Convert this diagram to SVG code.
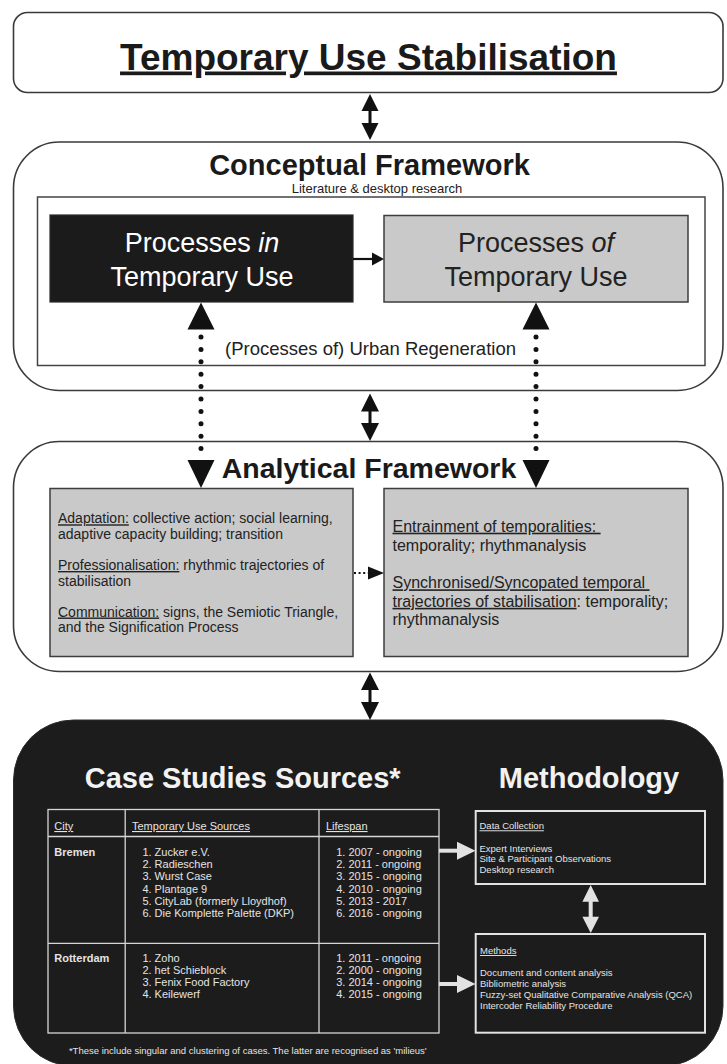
<svg xmlns="http://www.w3.org/2000/svg" width="727" height="1064" viewBox="0 0 727 1064">
  <style>
    text { font-family: "Liberation Sans", Arial, Helvetica, sans-serif; }
    .frame { fill: #ffffff; stroke: #3a3a3a; stroke-width: 1.6; }
    .inner { fill: #ffffff; stroke: #444444; stroke-width: 1.5; }
    .dark { fill: #1b1b1b; stroke: #2a2a2a; stroke-width: 1.2; }
    .grey { fill: #c9c9c9; stroke: #3d3d3d; stroke-width: 1.5; }
    .head { font-weight: bold; fill: #1a1a1a; }
    .ink { fill: #222222; }
    .light { fill: #f2f2f2; }
    .pale { fill: #e4e4e4; }
    .ul { text-decoration: underline; }
    .tline { stroke: #d6d6d6; stroke-width: 1.3; fill: none; }
    .mbox { fill: none; stroke: #e2e2e2; stroke-width: 2; }
    .blk { fill: #111111; }
    .wht { fill: #e2e2e2; }
    .dots { stroke: #111111; stroke-width: 5; stroke-linecap: round; stroke-dasharray: 0 12.4; fill: none; }
    .dots-s { stroke: #111111; stroke-width: 2.2; stroke-dasharray: 2 2.6; fill: none; }
  </style>

  <!-- Top: overarching theme -->
  <g id="node-stabilisation">
    <rect class="frame" x="13.5" y="12.5" width="709.5" height="80" rx="14"/>
    <text class="head ul" x="368.5" y="69.5" font-size="37" text-anchor="middle">Temporary Use Stabilisation</text>
  </g>

  <!-- Conceptual framework -->
  <g id="node-conceptual">
    <rect class="frame" x="13.5" y="142" width="709.5" height="248.5" rx="46"/>
    <text class="head" x="369.5" y="175" font-size="29" text-anchor="middle">Conceptual Framework</text>
    <text class="ink" x="377" y="192.5" font-size="13" text-anchor="middle">Literature &amp; desktop research</text>
    <rect class="inner" x="37.5" y="197" width="667.5" height="168.5"/>
    <text class="ink" x="370.5" y="355" font-size="18.5" text-anchor="middle">(Processes of) Urban Regeneration</text>
  </g>

  <g id="node-processes-in">
    <rect class="dark" x="50" y="215" width="303" height="87"/>
    <text x="202" y="251.5" font-size="27" text-anchor="middle" fill="#ffffff">Processes <tspan font-style="italic">in</tspan></text>
    <text x="202" y="285.5" font-size="27" text-anchor="middle" fill="#ffffff">Temporary Use</text>
  </g>

  <g id="node-processes-of">
    <rect class="grey" x="384" y="215.5" width="304" height="86.5"/>
    <text class="ink" x="536" y="251.5" font-size="27" text-anchor="middle">Processes <tspan font-style="italic">of</tspan></text>
    <text class="ink" x="536" y="285.5" font-size="27" text-anchor="middle">Temporary Use</text>
  </g>

  <!-- Analytical framework -->
  <g id="node-analytical">
    <rect class="frame" x="13.5" y="441.5" width="709.5" height="230" rx="46"/>
    <text class="head" x="369" y="477.5" font-size="28.5" text-anchor="middle">Analytical Framework</text>
  </g>

  <g id="node-analytical-left">
    <rect class="grey" x="50" y="488.5" width="303" height="168"/>
    <g class="ink" font-size="14">
      <text x="58" y="523.3"><tspan class="ul">Adaptation:</tspan> collective action; social learning,</text>
      <text x="58" y="539">adaptive capacity building; transition</text>
      <text x="58" y="570"><tspan class="ul">Professionalisation:</tspan> rhythmic trajectories of</text>
      <text x="58" y="585.5">stabilisation</text>
      <text x="58" y="616.5"><tspan class="ul">Communication:</tspan> signs, the Semiotic Triangle,</text>
      <text x="58" y="632">and the Signification Process</text>
    </g>
  </g>

  <g id="node-analytical-right">
    <rect class="grey" x="384" y="488.5" width="304" height="168"/>
    <g class="ink" font-size="16">
      <text x="392.5" y="531.7" xml:space="preserve"><tspan class="ul">Entrainment of temporalities: </tspan></text>
      <text x="392.5" y="550.5">temporality; rhythmanalysis</text>
      <text x="392.5" y="588.3" xml:space="preserve"><tspan class="ul">Synchronised/Syncopated temporal </tspan></text>
      <text x="392.5" y="606.8"><tspan class="ul">trajectories of stabilisation</tspan>: temporality;</text>
      <text x="392.5" y="625.3">rhythmanalysis</text>
    </g>
  </g>

  <!-- Case studies and methodology -->
  <g id="node-cases">
    <rect x="13.5" y="720" width="709.5" height="346" rx="60" fill="#1c1c1c" stroke="#2c2c2c" stroke-width="1"/>
    <text class="light" x="242.7" y="788" font-size="29" font-weight="bold" text-anchor="middle">Case Studies Sources*</text>
    <text class="light" x="589" y="788" font-size="29" font-weight="bold" text-anchor="middle">Methodology</text>

    <g id="case-table">
      <rect class="tline" x="48" y="809.5" width="391" height="223.5"/>
      <line class="tline" x1="48" y1="836.5" x2="439" y2="836.5"/>
      <line class="tline" x1="48" y1="943.3" x2="439" y2="943.3"/>
      <line class="tline" x1="125.2" y1="809.5" x2="125.2" y2="1033"/>
      <line class="tline" x1="319" y1="809.5" x2="319" y2="1033"/>

      <g class="pale" font-size="11">
        <text class="ul" x="54.3" y="830">City</text>
        <text class="ul" x="132" y="830">Temporary Use Sources</text>
        <text class="ul" x="326" y="830">Lifespan</text>

        <text x="54.3" y="855.7" font-weight="bold">Bremen</text>
        <text x="142.4" y="855.7">1. Zucker e.V.</text>
        <text x="142.4" y="868">2. Radieschen</text>
        <text x="142.4" y="880.3">3. Wurst Case</text>
        <text x="142.4" y="892.6">4. Plantage 9</text>
        <text x="142.4" y="904.9">5. CityLab (formerly Lloydhof)</text>
        <text x="142.4" y="917.2">6. Die Komplette Palette (DKP)</text>
        <text x="336.2" y="855.7">1. 2007 - ongoing</text>
        <text x="336.2" y="868">2. 2011 - ongoing</text>
        <text x="336.2" y="880.3">3. 2015 - ongoing</text>
        <text x="336.2" y="892.6">4. 2010 - ongoing</text>
        <text x="336.2" y="904.9">5. 2013 - 2017</text>
        <text x="336.2" y="917.2">6. 2016 - ongoing</text>

        <text x="54.3" y="961.5" font-weight="bold">Rotterdam</text>
        <text x="142.4" y="961.5">1. Zoho</text>
        <text x="142.4" y="973.8">2. het Schieblock</text>
        <text x="142.4" y="986.1">3. Fenix Food Factory</text>
        <text x="142.4" y="998.4">4. Keilewerf</text>
        <text x="336.2" y="961.5">1. 2011 - ongoing</text>
        <text x="336.2" y="973.8">2. 2000 - ongoing</text>
        <text x="336.2" y="986.1">3. 2014 - ongoing</text>
        <text x="336.2" y="998.4">4. 2015 - ongoing</text>
      </g>
    </g>

    <text class="pale" x="247.8" y="1053.5" font-size="9.5" text-anchor="middle">*These include singular and clustering of cases. The latter are recognised as 'milieus'</text>
  </g>

  <g id="node-data-collection">
    <rect class="mbox" x="475.7" y="811" width="229.3" height="73"/>
    <g class="pale" font-size="9.5">
      <text class="ul" x="479.5" y="829.3">Data Collection</text>
      <text x="479.5" y="851.5">Expert Interviews</text>
      <text x="479.5" y="862.1">Site &amp; Participant Observations</text>
      <text x="479.5" y="872.7">Desktop research</text>
    </g>
  </g>

  <g id="node-methods">
    <rect class="mbox" x="475.7" y="934" width="229.3" height="98.7"/>
    <g class="pale" font-size="9.5">
      <text class="ul" x="480" y="954">Methods</text>
      <text x="480" y="976.4">Document and content analysis</text>
      <text x="480" y="987.4">Bibliometric analysis</text>
      <text x="480" y="998.4">Fuzzy-set Qualitative Comparative Analysis (QCA)</text>
      <text x="480" y="1009.4">Intercoder Reliability Procedure</text>
    </g>
  </g>

  <!-- Connectors -->
  <g id="connectors">
    <!-- two-way links between the stacked frames -->
    <path class="blk" d="M370,94 L378.5,111 L371.5,111 L371.5,123 L378.5,123 L370,140 L361.5,123 L368.5,123 L368.5,111 L361.5,111 Z"/>
    <path class="blk" d="M370,393.5 L379,411.5 L371.5,411.5 L371.5,423 L379,423 L370,441 L361,423 L368.5,423 L368.5,411.5 L361,411.5 Z"/>
    <path class="blk" d="M370,672.5 L379,690 L371.5,690 L371.5,702 L379,702 L370,720 L361,702 L368.5,702 L368.5,690 L361,690 Z"/>

    <!-- processes in -> processes of -->
    <line x1="353" y1="259" x2="373" y2="259" stroke="#111111" stroke-width="2.2"/>
    <polygon class="blk" points="372,252.5 384,259 372,265.5"/>

    <!-- dotted links between conceptual and analytical frameworks -->
    <polygon class="blk" points="201,302.5 214.5,329.5 187.5,329.5"/>
    <line class="dots" x1="201" y1="337" x2="201" y2="450"/>
    <polygon class="blk" points="187.5,460 214.5,460 201,488"/>

    <polygon class="blk" points="536,302.5 549.5,329.5 522.5,329.5"/>
    <line class="dots" x1="536" y1="337" x2="536" y2="450"/>
    <polygon class="blk" points="522.5,460 549.5,460 536,488"/>

    <!-- dotted link between analytical boxes -->
    <line class="dots-s" x1="354" y1="573" x2="368" y2="573"/>
    <polygon class="blk" points="368,566.5 384,573 368,579.5"/>

    <!-- table -> data collection / methods -->
    <rect class="wht" x="439" y="848.7" width="19" height="4"/>
    <polygon class="wht" points="457,841.7 475.5,850.7 457,859.7"/>
    <rect class="wht" x="439" y="982" width="19" height="4"/>
    <polygon class="wht" points="457,975 475.5,984 457,993"/>

    <!-- data collection <-> methods -->
    <path class="wht" d="M590.7,885 L599,901.7 L592.7,901.7 L592.7,916.7 L599,916.7 L590.7,933 L582.4,916.7 L588.7,916.7 L588.7,901.7 L582.4,901.7 Z"/>
  </g>
</svg>
